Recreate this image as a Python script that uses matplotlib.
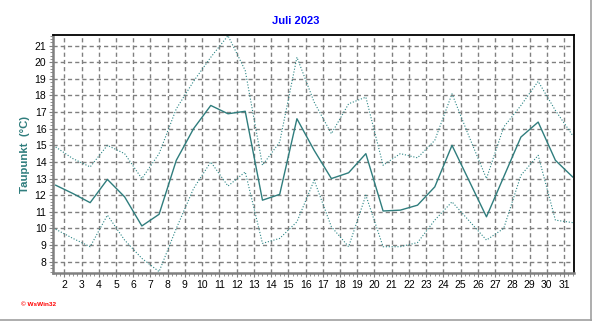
import numpy as np
import matplotlib
matplotlib.use('Agg')
import matplotlib.pyplot as plt
from matplotlib.ticker import MultipleLocator
from matplotlib.lines import Line2D

# Taupunkt Juli 2023 (Tageswerte)
days = np.arange(1, 32)
taupunkt_mittel = [12.6, 12.1, 11.55, 12.95, 11.9, 10.15, 10.85, 14.1, 16.0, 17.4,
                   16.9, 17.05, 11.7, 12.05, 16.6, 14.7, 13.0, 13.35, 14.5, 11.05,
                   11.1, 11.4, 12.5, 15.0, 12.85, 10.7, 13.1, 15.5, 16.4, 14.1, 13.1]
taupunkt_max = [14.9, 14.2, 13.7, 15.0, 14.5, 13.0, 14.5, 17.2, 18.85, 20.3,
                21.6, 19.5, 13.8, 15.2, 20.3, 17.6, 15.7, 17.5, 17.9, 13.8,
                14.5, 14.25, 15.3, 18.1, 15.5, 13.0, 16.1, 17.4, 18.85, 17.1, 15.6]
taupunkt_min = [9.95, 9.4, 8.9, 10.8, 9.3, 8.2, 7.4, 10.0, 12.4, 14.0,
                12.55, 13.4, 9.1, 9.4, 10.4, 12.9, 10.1, 8.9, 12.0, 8.9,
                8.9, 9.15, 10.5, 11.6, 10.45, 9.3, 10.0, 13.2, 14.4, 10.5, 10.35]

plt.rcParams['font.family'] = ['Liberation Sans', 'DejaVu Sans']

fig = plt.figure(figsize=(5.92, 3.21), dpi=100)
ax = fig.add_axes([0.09, 0.1486, 0.8796, 0.7424])

# Werte in der Mitte des Tages
x = days + 0.5
teal = '#2f7d7d'
ax.plot(x, taupunkt_max, color='#2a8585', lw=0.8, linestyle=(0, (1, 1.6)))
ax.plot(x, taupunkt_min, color='#2a8585', lw=0.8, linestyle=(0, (1, 1.6)))
ax.plot(x, taupunkt_mittel, color=teal, lw=1.0)

ax.set_xlim(1.36, 31.58)
ax.set_ylim(7.3, 21.64)
ax.xaxis.set_major_locator(MultipleLocator(1))
ax.xaxis.set_minor_locator(MultipleLocator(0.25))
ax.yaxis.set_major_locator(MultipleLocator(1))
ax.yaxis.set_minor_locator(MultipleLocator(0.2))

ax.grid(True, which='major', color='#808080', lw=1.0, linestyle=(0, (3, 2.2)))
ax.set_axisbelow(True)

ax.tick_params(axis='both', which='major', labelsize=7.5, length=3, color='#808080',
               direction='out', pad=2)
ax.tick_params(axis='both', which='minor', length=2, color='#808080', direction='out')

for side in ['left', 'bottom']:
    ax.spines[side].set_color('#808080')
    ax.spines[side].set_linewidth(1.8)
for side in ['top', 'right']:
    ax.spines[side].set_color('black')
    ax.spines[side].set_linewidth(1.3)

fig.text(0.5, 1 - 20.7 / 321, 'Juli 2023', color='#0000ff', fontsize=8,
         fontweight='bold', ha='center', va='center')
ax.set_ylabel('Taupunkt  (°C)', color=teal, fontsize=8.2, fontweight='bold')
ax.yaxis.set_label_coords(-0.045, 0.5)

fig.text(21 / 592, 1 - 304 / 321, '\u00a9 WsWin32', color='red', fontsize=4.6,
         fontweight='bold', va='center')

# grauer Rahmen rechts und unten
fig.add_artist(Line2D([0, 1], [0.002, 0.002], transform=fig.transFigure, color='#a0a0a0', lw=1.2))
fig.add_artist(Line2D([0.998, 0.998], [0, 1], transform=fig.transFigure, color='#a0a0a0', lw=1.2))

fig.savefig('out.png', dpi=100)
